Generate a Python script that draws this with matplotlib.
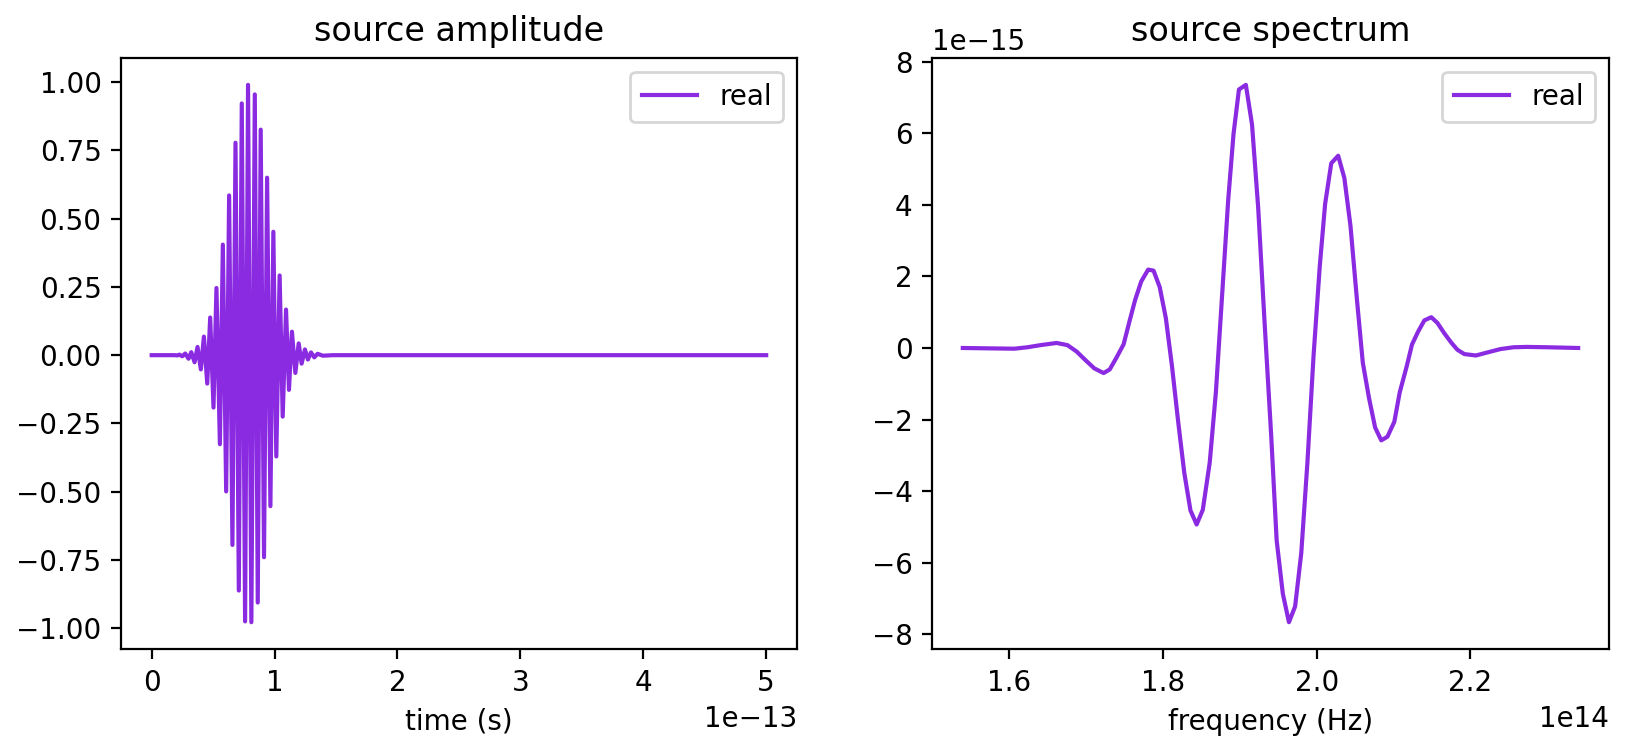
from matplotlib import pyplot as plt
import numpy as np

# left panel: time samples (units of 1e-13 s) and real amplitude
time_e13 = [0.0, 0.189, 0.208, 0.225, 0.249, 0.273, 0.300, 0.322, 0.349, 0.373,
            0.400, 0.425, 0.452, 0.476, 0.503, 0.527, 0.555, 0.579, 0.606, 0.630,
            0.657, 0.682, 0.709, 0.733, 0.760, 0.784, 0.811, 0.839, 0.863, 0.887,
            0.914, 0.939, 0.966, 0.990, 1.014, 1.041, 1.066, 1.093, 1.117, 1.141,
            1.169, 1.196, 1.220, 1.247, 1.271, 1.296, 1.323, 1.350, 1.393, 1.474,
            2.0, 3.0, 4.0, 5.0]
amplitude = [0.0, 0.0, -0.001, 0.002, -0.004, 0.006, -0.013, 0.011, -0.026, 0.030,
             -0.052, 0.068, -0.104, 0.138, -0.192, 0.246, -0.326, 0.405, -0.499, 0.585,
             -0.695, 0.778, -0.862, 0.922, -0.975, 0.990, -0.978, 0.955, -0.906, 0.826,
             -0.740, 0.650, -0.553, 0.452, -0.371, 0.292, -0.225, 0.167, -0.127, 0.086,
             -0.065, 0.043, -0.031, 0.021, -0.016, 0.010, -0.008, 0.005, -0.002, 0.0,
             0.0, 0.0, 0.0, 0.0]

# right panel: frequency (units of 1e14 Hz) and real spectrum (units of 1e-15)
freq_e14 = [1.540, 1.572, 1.607, 1.624, 1.641, 1.662, 1.676, 1.688, 1.699, 1.711,
            1.723, 1.731, 1.740, 1.749, 1.757, 1.764, 1.772, 1.781, 1.788, 1.796,
            1.804, 1.812, 1.820, 1.828, 1.836, 1.844, 1.852, 1.861, 1.869, 1.877,
            1.885, 1.892, 1.899, 1.908, 1.916, 1.924, 1.932, 1.941, 1.948, 1.956,
            1.964, 1.972, 1.980, 1.988, 1.996, 2.004, 2.011, 2.019, 2.028, 2.036,
            2.044, 2.052, 2.060, 2.068, 2.076, 2.084, 2.092, 2.101, 2.108, 2.117,
            2.124, 2.132, 2.140, 2.149, 2.157, 2.166, 2.175, 2.183, 2.192, 2.207,
            2.221, 2.239, 2.256, 2.273, 2.300, 2.340]
spectrum_e15 = [0.0, -0.01, -0.02, 0.02, 0.08, 0.14, 0.08, -0.10, -0.33, -0.57,
                -0.70, -0.60, -0.26, 0.10, 0.77, 1.34, 1.86, 2.19, 2.16, 1.70,
                0.83, -0.52, -2.06, -3.50, -4.54, -4.93, -4.52, -3.20, -1.24, 1.44,
                4.13, 5.99, 7.22, 7.35, 6.24, 3.92, 0.83, -2.48, -5.37, -6.86,
                -7.66, -7.22, -5.73, -3.20, -0.21, 2.27, 4.02, 5.16, 5.37, 4.75,
                3.41, 1.44, -0.41, -1.39, -2.22, -2.58, -2.48, -2.06, -1.24, -0.52,
                0.10, 0.46, 0.77, 0.86, 0.70, 0.41, 0.15, -0.05, -0.17, -0.21,
                -0.13, -0.03, 0.02, 0.03, 0.02, 0.0]

colour = "blueviolet"

fig = plt.figure(figsize=(8.14, 3.765), dpi=200)
ax1 = fig.add_axes([0.0743, 0.138, 0.4152, 0.785])
ax2 = fig.add_axes([0.5725, 0.138, 0.4158, 0.785])

ax1.plot(np.array(time_e13) * 1e-13, amplitude, color=colour, label="real")
ax1.set_title("source amplitude")
ax1.set_xlabel("time (s)")
ax1.legend(loc="upper right")

ax2.plot(np.array(freq_e14) * 1e14, np.array(spectrum_e15) * 1e-15, color=colour, label="real")
ax2.set_title("source spectrum")
ax2.set_xlabel("frequency (Hz)")
ax2.legend(loc="upper right")

fig.savefig("out.png", dpi=200)
